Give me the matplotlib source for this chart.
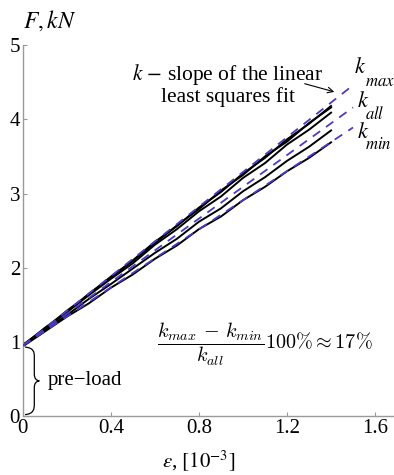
import matplotlib
matplotlib.use("Agg")
import matplotlib.pyplot as plt
from matplotlib.path import Path
from matplotlib.patches import PathPatch

plt.rcParams['font.family'] = ['Liberation Serif', 'DejaVu Serif']
plt.rcParams['mathtext.fontset'] = 'stix'

# strain [1e-3]
strain = [0.0, 0.1, 0.2, 0.3, 0.4, 0.5, 0.6, 0.7, 0.8, 0.9, 1.0, 1.1, 1.2, 1.3, 1.4]
# measured force curves [kN]
force_1 = [0.95, 1.19, 1.40, 1.65, 1.87, 2.10, 2.35, 2.56, 2.81, 3.02, 3.27, 3.48, 3.73, 3.94, 4.18]
force_2 = [0.96, 1.18, 1.42, 1.64, 1.88, 2.09, 2.33, 2.57, 2.79, 3.04, 3.25, 3.50, 3.70, 3.95, 4.16]
force_3 = [0.95, 1.17, 1.40, 1.63, 1.85, 2.06, 2.31, 2.52, 2.76, 2.96, 3.21, 3.41, 3.66, 3.86, 4.09]
force_4 = [0.95, 1.16, 1.36, 1.58, 1.78, 1.99, 2.20, 2.39, 2.62, 2.80, 3.03, 3.22, 3.44, 3.63, 3.85]
force_5 = [0.94, 1.14, 1.34, 1.52, 1.73, 1.91, 2.12, 2.30, 2.52, 2.69, 2.91, 3.09, 3.30, 3.48, 3.69]
curves = [force_1, force_2, force_3, force_4, force_5]

# least squares fits: slopes and common intercept
fit_names = ['max', 'all', 'min']
fit_slopes = [2.34, 2.14, 1.96]
fit_intercept = 0.95
fit_x = [0.0, 1.5]

fig = plt.figure(figsize=(3.94, 4.75), dpi=100)
ax = fig.add_axes([0.058, 0.124, 0.942, 0.781])

for c in curves:
    ax.plot(strain, c, color='black', lw=1.4, zorder=2)

for s in fit_slopes:
    ax.plot(fit_x, [fit_intercept + s * x for x in fit_x], color='#4b3cc0',
            lw=1.3, ls=(0, (5, 4)), zorder=3)

ax.set_xlim(0, 1.686)
ax.set_ylim(0, 5)
ax.set_xticks([0, 0.4, 0.8, 1.2, 1.6])
ax.set_xticklabels(['0', '0.4', '0.8', '1.2', '1.6'])
ax.set_yticks([0, 1, 2, 3, 4, 5])
for sp in ['top', 'right']:
    ax.spines[sp].set_visible(False)
for sp in ['left', 'bottom']:
    ax.spines[sp].set_color('#9a9a9a')
    ax.spines[sp].set_linewidth(1.0)
ax.tick_params(direction='in', length=3, color='#9a9a9a', labelsize=15, pad=2)

ax.text(0.0, 5.33, r'$F, kN$', fontsize=17, ha='left', va='center')
ax.text(0.8, -0.6, r'$\epsilon$, $[10^{-3}]$', fontsize=15, ha='center', va='center')

ax.text(0.93, 4.47, r'$k$ $-$ slope of the linear' + '\n' + 'least squares fit',
        fontsize=15.5, ha='center', va='center', linespacing=1.0)
ax.annotate('', xy=(1.427, 4.36), xytext=(1.268, 4.49),
            arrowprops=dict(arrowstyle='->', color='black', lw=0.8))

k_x = [1.505, 1.52, 1.52]
k_y = [4.69, 4.24, 3.82]
sub_y = [4.50, 4.06, 3.66]
for n, kx, ky, sy in zip(fit_names, k_x, k_y, sub_y):
    ax.text(kx, ky, r'$k$', fontsize=16, ha='left', va='center')
    ax.text(1.556, sy, r'$%s$' % n, fontsize=12, ha='left', va='center')

ax.text(0.61, 0.96, r'$\dfrac{k_{max}\,-\,k_{min}}{k_{all}}100\%\approx 17\%$',
        fontsize=14.5, ha='left', va='center', math_fontfamily='cm')

# brace for pre-load
verts = [(0.01, 0.02), (0.05, 0.03), (0.052, 0.10), (0.052, 0.16),
         (0.052, 0.38),
         (0.052, 0.44), (0.06, 0.47), (0.075, 0.475),
         (0.06, 0.48), (0.052, 0.51), (0.052, 0.57),
         (0.052, 0.80),
         (0.052, 0.86), (0.05, 0.92), (0.01, 0.93)]
codes = [Path.MOVETO, Path.CURVE4, Path.CURVE4, Path.CURVE4,
         Path.LINETO,
         Path.CURVE4, Path.CURVE4, Path.CURVE4,
         Path.CURVE4, Path.CURVE4, Path.CURVE4,
         Path.LINETO,
         Path.CURVE4, Path.CURVE4, Path.CURVE4]
ax.add_patch(PathPatch(Path(verts, codes), fill=False, lw=0.9, color='black'))
ax.text(0.115, 0.48, 'pre\u2212load', fontsize=15, ha='left', va='center')

fig.savefig('out.png', dpi=100)
